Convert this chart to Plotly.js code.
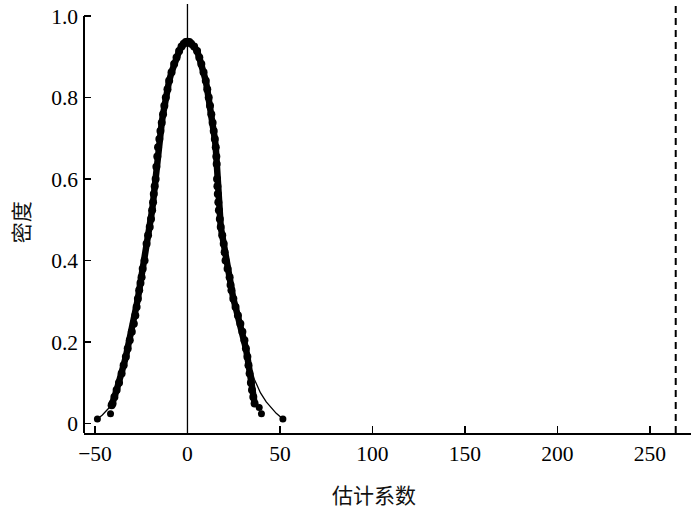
<!DOCTYPE html>
<html>
<head>
<meta charset="utf-8">
<script src="https://cdn.plot.ly/plotly-3.0.1.min.js"></script>
<style>html,body{margin:0;padding:0;background:#fff;}#chart{width:700px;height:510px;}</style>
</head>
<body>
<div id="chart"></div>
<script>
// Placebo estimates (dense dots along the curve)
const coefX = [-41.0,-40.5,-39.5,-38.3,-37.0,-35.6,-34.5,-33.3,-32.3,-31.2,-30.1,-29.0,-28.2,-27.5,-26.8,-26.1,-25.4,-24.8,-24.2,-23.2,-22.1,-21.3,-20.4,-19.7,-19.1,-18.6,-18.2,-17.7,-17.2,-16.8,-16.3,-15.9,-15.2,-14.6,-13.9,-13.2,-12.5,-11.7,-10.8,-9.9,-8.6,-7.2,-5.9,-4.5,-3.2,-2.0,-0.9,0.0,1.0,2.0,3.6,5.2,6.4,7.5,8.7,9.9,10.7,11.5,12.2,12.9,13.6,14.2,14.8,15.3,15.6,15.8,16.0,16.2,16.4,16.7,17.0,17.5,18.0,18.8,19.6,20.1,20.6,21.7,22.8,23.3,23.8,24.8,26.0,27.3,28.6,29.7,30.8,31.6,32.4,33.0,33.6,34.3,34.9,35.6,36.3];
const coefY = [0.045,0.049,0.065,0.082,0.100,0.123,0.143,0.164,0.184,0.204,0.225,0.245,0.265,0.286,0.306,0.327,0.345,0.359,0.380,0.400,0.441,0.462,0.482,0.502,0.523,0.543,0.563,0.582,0.600,0.630,0.655,0.678,0.698,0.718,0.738,0.759,0.780,0.800,0.820,0.841,0.862,0.882,0.898,0.914,0.925,0.932,0.936,0.937,0.936,0.932,0.925,0.914,0.898,0.882,0.862,0.841,0.820,0.800,0.780,0.759,0.738,0.718,0.698,0.678,0.655,0.637,0.600,0.582,0.563,0.543,0.523,0.502,0.482,0.462,0.441,0.420,0.400,0.380,0.359,0.340,0.327,0.306,0.286,0.265,0.245,0.225,0.204,0.184,0.164,0.143,0.123,0.100,0.082,0.065,0.049];

// Kernel density line (thin)
const kdX = [-48.7,-46.0,-43.5,-41.0,-38.3,-35.6,-33.3,-31.2,-29.0,-27.5,-26.1,-24.8,-23.2,-22.1,-20.4,-19.1,-18.2,-17.2,-15.9,-14.6,-13.2,-11.7,-9.9,-7.2,-4.5,-2.0,0.0,2.0,5.2,7.5,9.9,11.5,12.9,14.2,15.3,15.8,16.4,17.0,18.0,19.6,20.6,22.8,23.8,26.0,28.6,30.8,32.4,33.8,35.0,36.2,37.2,39.5,42.6,45.5,48.0,51.6];
const kdY = [0.011,0.021,0.033,0.045,0.082,0.123,0.164,0.204,0.245,0.286,0.327,0.359,0.400,0.441,0.482,0.523,0.563,0.600,0.678,0.718,0.759,0.800,0.841,0.882,0.914,0.932,0.937,0.932,0.914,0.882,0.841,0.800,0.759,0.718,0.678,0.637,0.563,0.523,0.482,0.441,0.400,0.359,0.327,0.286,0.245,0.204,0.164,0.143,0.123,0.108,0.098,0.075,0.053,0.037,0.025,0.011];

// Isolated tail estimates
const tailX = [-48.7,-41.6,38.8,40.0,51.6];
const tailY = [0.011,0.024,0.039,0.024,0.011];

// Reference lines: zero and the actual estimated coefficient
const zeroLine = 0;
const actualCoef = 264;

const xTickVals = [-50,0,50,100,150,200,250];
const xTickText = ['\u221250','0','50','100','150','200','250'];
const yTickVals = [0,0.2,0.4,0.6,0.8,1.0];
const yTickText = ['0','0.2','0.4','0.6','0.8','1.0'];

const xTitle = '估计系数';
const yTitle = '密度';

const xRange = [-55.94, 272.26];
const yRange = [-0.0233, 1.0294];

const serif = '"Liberation Serif", "Times New Roman", serif';
const cjk = '"Noto Sans CJK SC", sans-serif';

const traces = [
  {x: kdX, y: kdY, type: 'scatter', mode: 'lines', line: {color: '#000', width: 1.3}, hoverinfo: 'skip', showlegend: false},
  {x: coefX, y: coefY, type: 'scatter', mode: 'lines+markers', line: {color: '#000', width: 6.5}, marker: {color: '#000', size: 8}, showlegend: false},
  {x: tailX, y: tailY, type: 'scatter', mode: 'markers', marker: {color: '#000', size: 7}, showlegend: false}
];

const yTop = (1.0 - yRange[0]) / (yRange[1] - yRange[0]);

const layout = {
  width: 700, height: 510,
  margin: {l: 84, r: 8.5, t: 4, b: 77, pad: 0},
  paper_bgcolor: '#fff', plot_bgcolor: '#fff',
  showlegend: false,
  xaxis: {
    range: xRange, showgrid: false, zeroline: false,
    showline: true, linecolor: '#000', linewidth: 2,
    ticks: 'inside', ticklen: 7, tickwidth: 1.5, tickcolor: '#000',
    tickvals: xTickVals, ticktext: xTickText,
    tickfont: {family: serif, size: 21.5, color: '#000'},
    automargin: false
  },
  yaxis: {
    range: yRange, showgrid: false, zeroline: false,
    showline: false,
    ticks: 'inside', ticklen: 7, tickwidth: 1.5, tickcolor: '#000',
    tickvals: yTickVals, ticktext: yTickText,
    tickfont: {family: serif, size: 21.5, color: '#000'},
    ticklabelstandoff: 5,
    automargin: false
  },
  annotations: [
    {text: xTitle, xref: 'paper', yref: 'paper', x: 0.477, y: -0.142, xanchor: 'center', yanchor: 'middle', showarrow: false, font: {family: cjk, size: 21, color: '#111'}},
    {text: yTitle, xref: 'paper', yref: 'paper', x: -0.105, y: 0.492, xanchor: 'center', yanchor: 'middle', textangle: -90, showarrow: false, font: {family: cjk, size: 21, color: '#111'}}
  ],
  shapes: [
    {type: 'line', xref: 'paper', yref: 'paper', x0: 0, x1: 0, y0: 0, y1: yTop, line: {color: '#000', width: 2}},
    {type: 'line', xref: 'x', yref: 'paper', x0: zeroLine, x1: zeroLine, y0: 0, y1: 1, line: {color: '#000', width: 1.3}},
    {type: 'line', xref: 'x', yref: 'paper', x0: actualCoef, x1: actualCoef, y0: 0, y1: 1, line: {color: '#000', width: 2, dash: '7px,5px'}}
  ]
};

Plotly.newPlot('chart', traces, layout, {displayModeBar: false, staticPlot: true});
</script>
</body>
</html>
